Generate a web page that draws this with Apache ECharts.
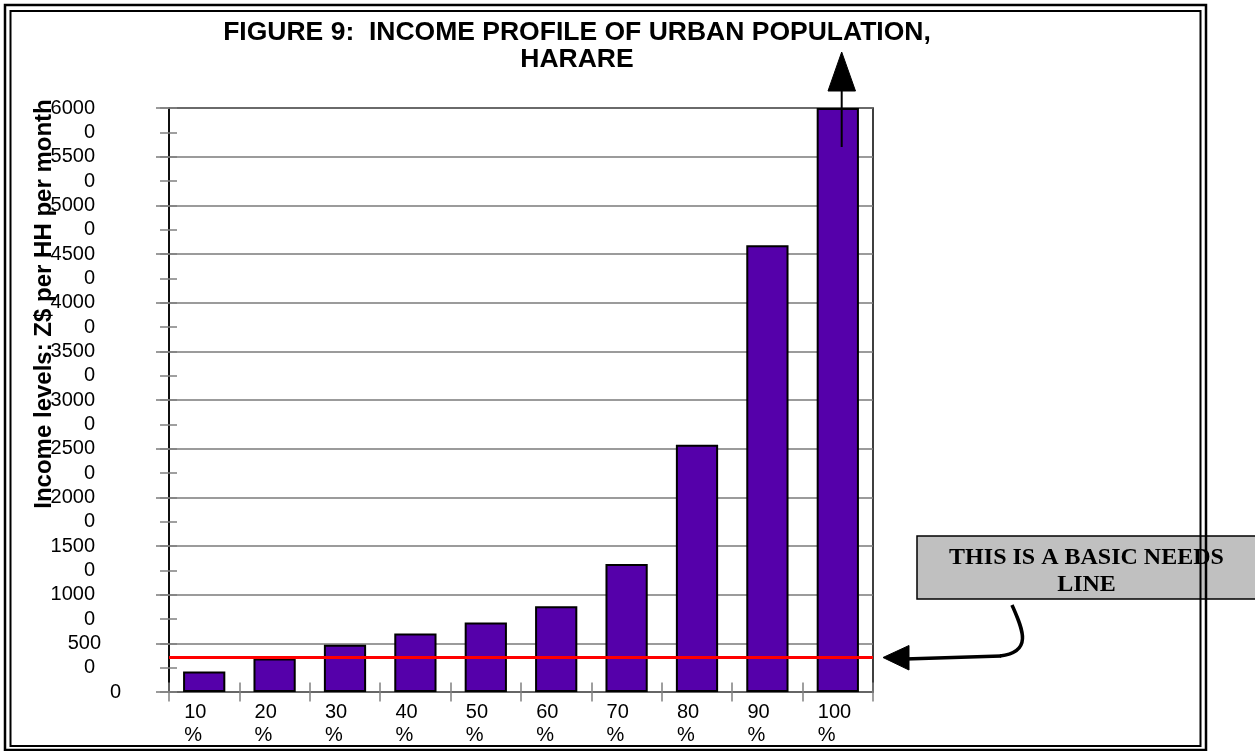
<!DOCTYPE html>
<html>
<head>
<meta charset="utf-8">
<script src="https://cdn.jsdelivr.net/npm/echarts@6/dist/echarts.min.js"></script>
<style>
html,body{margin:0;padding:0;background:#ffffff;}
#chart{width:1255px;height:751px;}
</style>
</head>
<body>
<div id="chart"></div>
<script>
// ---- data ----
const categories = ['10%', '20%', '30%', '40%', '50%', '60%', '70%', '80%', '90%', '100%'];
const incomeValues = [2100, 3450, 4850, 6000, 7150, 8800, 13150, 25400, 45900, 60000];
const basicNeedsLevel = 3600;
const yMin = 0;
const yMax = 60000;
const yMajorStep = 5000;
const yHalfStep = 2500;
const titleText = 'FIGURE 9:  INCOME PROFILE OF URBAN POPULATION,\nHARARE';
const yAxisTitle = 'Income levels: Z$ per HH per month';
const noteText = 'THIS IS A BASIC NEEDS\nLINE';

const SANS = "Arial, 'Liberation Sans', sans-serif";
const SERIF = "'Times New Roman', 'Liberation Serif', serif";

const chart = echarts.init(document.getElementById('chart'), null, {renderer: 'canvas'});

// y tick labels: each major value wraps its last digit onto the half-step line below
function yLabel(v) {
  if (v === 0) return '{z|0}';
  if (v % yMajorStep === 0) {
    const s = String(v);
    const head = s.slice(0, -1);
    return v === yMajorStep ? '{f|' + head + '}' : head;
  }
  return '0';
}

const option = {
  animation: false,
  backgroundColor: '#ffffff',
  title: {
    text: titleText,
    left: 577,
    top: 19,
    padding: 0,
    textAlign: 'center',
    textStyle: {fontFamily: SANS, fontWeight: 'bold', fontSize: 26.5, lineHeight: 27, color: '#000'}
  },
  grid: {
    left: 169, right: 382, top: 108, bottom: 59,
    show: true, borderColor: '#000', borderWidth: 1.5, backgroundColor: 'transparent'
  },
  xAxis: [
    {
      type: 'category', data: categories, position: 'bottom',
      axisLine: {show: true, lineStyle: {color: '#666', width: 1.5}},
      axisTick: {show: true, interval: 0, alignWithLabel: false, length: 9.5, lineStyle: {color: '#808080', width: 1.5}},
      axisLabel: {
        interval: 0, margin: 9,
        formatter: function (v) { return '{a|' + v.replace('%', '') + '}\n{a|%}'; },
        rich: {a: {width: 40, align: 'left', fontFamily: SANS, fontSize: 20, lineHeight: 23, color: '#000'}}
      },
      splitLine: {show: false}
    },
    {
      type: 'category', data: categories, position: 'bottom',
      axisLine: {show: false},
      axisTick: {show: true, inside: true, interval: 0, alignWithLabel: false, length: 9.5, lineStyle: {color: '#808080', width: 1.5}},
      axisLabel: {show: false},
      splitLine: {show: false}
    }
  ],
  yAxis: [
    {
      type: 'value', min: yMin, max: yMax, interval: yMajorStep, position: 'left',
      axisLine: {show: false},
      axisTick: {show: true, length: 13, lineStyle: {color: '#7a7a7a', width: 1.5}},
      axisLabel: {show: false},
      splitLine: {show: true, lineStyle: {color: '#7a7a7a', width: 1.5}}
    },
    {
      type: 'value', min: yMin, max: yMax, interval: yHalfStep, position: 'left',
      axisLine: {show: true, onZero: false, lineStyle: {color: '#000', width: 1.5}},
      axisTick: {show: true, length: 9, lineStyle: {color: '#808080', width: 1.5}},
      axisLabel: {
        show: true, margin: 74, showMinLabel: true, showMaxLabel: true,
        fontFamily: SANS, fontSize: 20, color: '#000',
        formatter: yLabel,
        rich: {
          z: {fontFamily: SANS, fontSize: 20, color: '#000', padding: [0, -26, 0, 0]},
          f: {fontFamily: SANS, fontSize: 20, color: '#000', padding: [0, -6, 0, 0]}
        }
      },
      splitLine: {show: false}
    },
    {
      type: 'value', min: yMin, max: yMax, interval: yHalfStep, position: 'left',
      axisLine: {show: false},
      axisTick: {show: true, inside: true, length: 8, lineStyle: {color: '#808080', width: 1.5}},
      axisLabel: {show: false},
      splitLine: {show: false}
    }
  ],
  series: [
    {
      type: 'bar',
      xAxisIndex: 0, yAxisIndex: 0,
      data: incomeValues,
      barCategoryGap: '40%',
      itemStyle: {color: '#5500AA', borderColor: '#000', borderWidth: 2},
      emphasis: {disabled: true},
      markLine: {
        silent: true, symbol: 'none',
        label: {show: false},
        lineStyle: {color: '#FF0000', width: 3, type: 'solid'},
        emphasis: {disabled: true},
        data: [{yAxis: basicNeedsLevel}]
      }
    }
  ],
  graphic: [
    // y axis title
    {
      type: 'text', x: 44, y: 304, rotation: Math.PI / 2, z: 10,
      style: {text: yAxisTitle, fontFamily: SANS, fontWeight: 'bold', fontSize: 24, fill: '#000',
              align: 'center', verticalAlign: 'middle', textAlign: 'center', textVerticalAlign: 'middle'}
    },
    // arrow above the 100% bar
    {
      type: 'line', z: 10,
      shape: {x1: 841.7, y1: 147, x2: 841.7, y2: 90},
      style: {stroke: '#000', lineWidth: 2}
    },
    {
      type: 'polygon', z: 10,
      shape: {points: [[841.7, 52], [828, 91], [855.5, 91]]},
      style: {fill: '#000', stroke: '#000', lineWidth: 1}
    },
    // note box
    {
      type: 'rect', z: 10,
      shape: {x: 917, y: 536, width: 345, height: 63},
      style: {fill: '#C0C0C0', stroke: '#000', lineWidth: 1.5}
    },
    {
      type: 'text', x: 1086.5, y: 571, z: 11,
      style: {text: noteText, fontFamily: SERIF, fontWeight: 'bold', fontSize: 24, lineHeight: 27, fill: '#000',
              align: 'center', verticalAlign: 'middle', textAlign: 'center', textVerticalAlign: 'middle'}
    },
    // curved pointer to the basic needs line
    {
      type: 'bezierCurve', z: 10,
      shape: {x1: 1012, y1: 605, cpx1: 1022, cpy1: 628, cpx2: 1034, cpy2: 652, x2: 1000, y2: 656},
      style: {stroke: '#000', lineWidth: 3.5, fill: null}
    },
    {
      type: 'line', z: 10,
      shape: {x1: 1001, y1: 656, x2: 905, y2: 659},
      style: {stroke: '#000', lineWidth: 3.5}
    },
    {
      type: 'polygon', z: 10,
      shape: {points: [[883, 657.5], [909, 645.5], [909, 670]]},
      style: {fill: '#000', stroke: '#000', lineWidth: 1}
    },
    // double frame
    {
      type: 'rect', z: 20,
      shape: {x: 5, y: 5, width: 1201, height: 745},
      style: {fill: null, stroke: '#000', lineWidth: 2.5}
    },
    {
      type: 'rect', z: 20,
      shape: {x: 10.5, y: 11, width: 1190, height: 735},
      style: {fill: null, stroke: '#000', lineWidth: 2}
    }
  ]
};

chart.setOption(option);
</script>
</body>
</html>
